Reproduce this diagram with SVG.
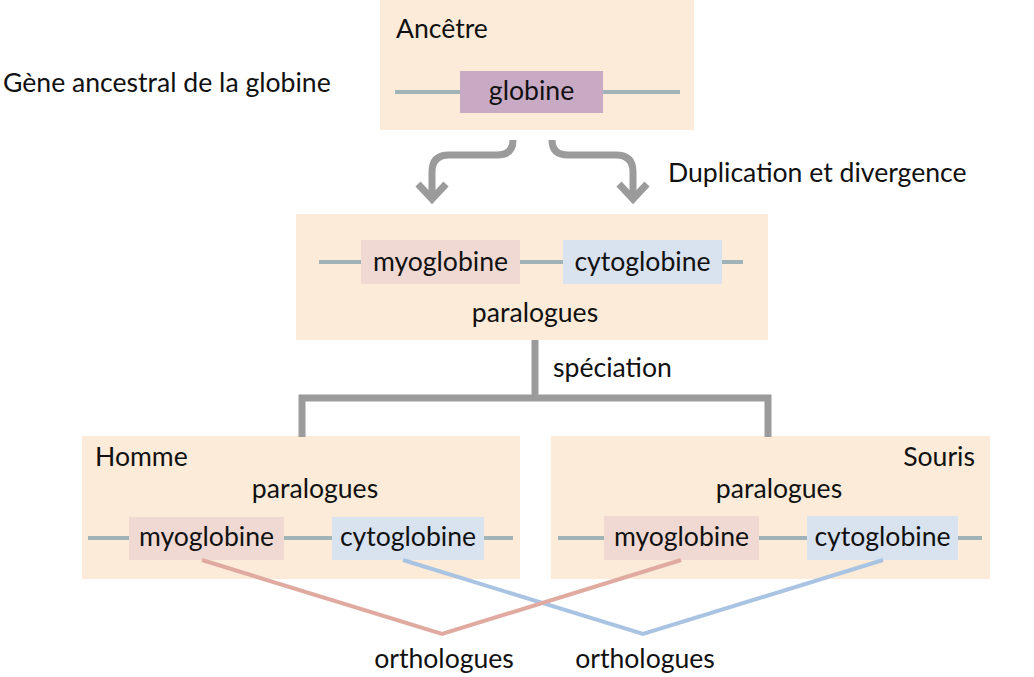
<svg xmlns="http://www.w3.org/2000/svg" width="1034" height="677" viewBox="0 0 1034 677">
<defs>
<style>
text{font-family:Lato,"Open Sans","Liberation Sans",sans-serif;font-size:26.6px;fill:#111}
.panel{fill:#FBEBD8}
.dna{stroke:#A0B3B9;stroke-width:4;fill:none}
.myo{fill:#F0D9D3}
.cyto{fill:#D9E3F0}
.glob{fill:#C9AAC5}
.gray{stroke:#9B9B9B;stroke-width:7;fill:none}
.red{stroke:#E0AAA1;stroke-width:4;fill:none}
.blue{stroke:#A9C4E2;stroke-width:4;fill:none}
.c{text-anchor:middle}
</style>
</defs>
<rect width="1034" height="677" fill="#fff"/>
<text x="3" y="92">Gène ancestral de la globine</text>
<text x="668" y="182">Duplication et divergence</text>
<text x="553" y="377">spéciation</text>
<g id="ancetre">
<rect class="panel" x="380" y="0" width="314" height="130"/>
<text x="396" y="38">Ancêtre</text>
<line class="dna" x1="395" y1="92" x2="680" y2="92"/>
<rect class="glob" x="460" y="71" width="143" height="42"/>
<text class="c" x="531.5" y="100">globine</text>
</g>
<g id="paralogues">
<rect class="panel" x="296" y="214" width="472" height="126"/>
<line class="dna" x1="319" y1="262" x2="743" y2="262"/>
<rect class="myo" x="361" y="240" width="159" height="44"/>
<text class="c" x="440.5" y="271">myoglobine</text>
<rect class="cyto" x="563" y="240" width="159" height="44"/>
<text class="c" x="642.5" y="271">cytoglobine</text>
<text class="c" x="535" y="322">paralogues</text>
</g>
<g id="homme">
<rect class="panel" x="82" y="436" width="438" height="143"/>
<text x="95" y="466">Homme</text>
<text class="c" x="315" y="498">paralogues</text>
<line class="dna" x1="88" y1="538" x2="513" y2="538"/>
<rect class="myo" x="129" y="517" width="155" height="43"/>
<text class="c" x="206.5" y="546">myoglobine</text>
<rect class="cyto" x="332" y="517" width="152" height="43"/>
<text class="c" x="408" y="546">cytoglobine</text>
</g>
<g id="souris">
<rect class="panel" x="551" y="436" width="439" height="143"/>
<text x="975" y="466" text-anchor="end">Souris</text>
<text class="c" x="779" y="498">paralogues</text>
<line class="dna" x1="558" y1="538" x2="982" y2="538"/>
<rect class="myo" x="604" y="516" width="155" height="44"/>
<text class="c" x="681.5" y="546">myoglobine</text>
<rect class="cyto" x="807" y="516" width="151" height="44"/>
<text class="c" x="882.5" y="546">cytoglobine</text>
</g>
<g id="connectors">
<path class="gray" d="M513 140 Q513 155 497 155 L449 155 Q432 155 432 172 L432 199"/>
<path class="gray" d="M418 184 L432 199 L446 184"/>
<path class="gray" d="M552 140 Q552 155 568 155 L616 155 Q633 155 633 172 L633 199"/>
<path class="gray" d="M619 184 L633 199 L647 184"/>
<path class="gray" d="M535 340 L535 398 M302 437 L302 398 L768 398 L768 437"/>
<path class="blue" d="M403 560 L643 634 L883 560"/>
<path class="red" d="M202 560 L442 634 L681 560"/>
</g>
<text class="c" x="444" y="668">orthologues</text>
<text class="c" x="645" y="668">orthologues</text>
</svg>
